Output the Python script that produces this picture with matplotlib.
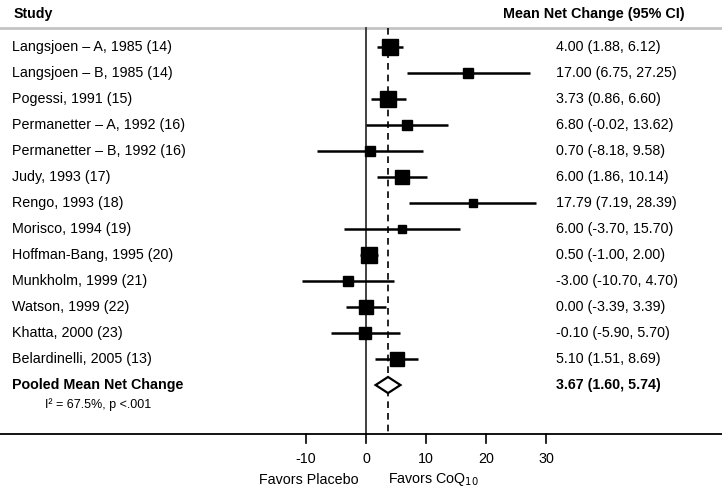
import numpy as np
import matplotlib.pyplot as plt

plt.rcParams['font.family'] = ['Liberation Sans', 'DejaVu Sans']

studies = ['Langsjoen \u2013 A, 1985 (14)', 'Langsjoen \u2013 B, 1985 (14)', 'Pogessi, 1991 (15)',
           'Permanetter \u2013 A, 1992 (16)', 'Permanetter \u2013 B, 1992 (16)', 'Judy, 1993 (17)',
           'Rengo, 1993 (18)', 'Morisco, 1994 (19)', 'Hoffman-Bang, 1995 (20)',
           'Munkholm, 1999 (21)', 'Watson, 1999 (22)', 'Khatta, 2000 (23)',
           'Belardinelli, 2005 (13)']
mean = [4.00, 17.00, 3.73, 6.80, 0.70, 6.00, 17.79, 6.00, 0.50, -3.00, 0.00, -0.10, 5.10]
lo = [1.88, 6.75, 0.86, -0.02, -8.18, 1.86, 7.19, -3.70, -1.00, -10.70, -3.39, -5.90, 1.51]
hi = [6.12, 27.25, 6.60, 13.62, 9.58, 10.14, 28.39, 15.70, 2.00, 4.70, 3.39, 5.70, 8.69]
# relative study weight (drives box size)
weight = [16, 9, 16, 10, 9, 14, 8, 8, 16, 10, 14, 11, 14]
pooled = 3.67
pooled_lo = 1.60
pooled_hi = 5.74
xticks = [-10, 0, 10, 20, 30]

fs = 10.3

fig = plt.figure(figsize=(7.22, 4.88), dpi=100)
ax = fig.add_axes([0, 0, 1, 1])
ax.set_xlim(-61, 59.33)
ax.set_ylim(16.96, -1.808)
ax.axis('off')

n = len(studies)
axis_y = 14.885
top_y = -0.73

# header line
ax.axhline(-0.73, color='#c4c4c4', lw=2)
ax.text(-58.8, -1.27, 'Study', fontsize=10.2, fontweight='bold', va='center', ha='left')
ax.text(22.8, -1.27, 'Mean Net Change (95% CI)', fontsize=10.4, fontweight='bold', va='center', ha='left')

# reference lines
ax.plot([0, 0], [top_y, axis_y], color='#333333', lw=1.3)
ax.plot([pooled, pooled], [top_y, axis_y], color='black', lw=1.2, ls=(0, (4, 3)))

for i in range(n):
    ax.plot([lo[i], hi[i]], [i, i], color='black', lw=1.8, solid_capstyle='butt')
    ax.plot(mean[i], i, marker='s', color='black', markersize=weight[i] * 0.75, zorder=3)
    ax.text(-59, i, studies[i], fontsize=fs, va='center', ha='left')
    ax.text(31.6, i, '%.2f (%.2f, %.2f)' % (mean[i], lo[i], hi[i]), fontsize=fs, va='center', ha='left')

# pooled diamond
py = n
ax.fill([pooled_lo, pooled, pooled_hi, pooled], [py, py - 0.31, py, py + 0.31],
        facecolor='white', edgecolor='black', lw=1.6, zorder=4)
ax.text(-59, py, 'Pooled Mean Net Change', fontsize=fs, fontweight='bold', va='center', ha='left')
ax.text(31.6, py, '%.2f (%.2f, %.2f)' % (pooled, pooled_lo, pooled_hi), fontsize=fs,
        fontweight='bold', va='center', ha='left')
ax.text(-53.5, py + 0.77, 'I\u00b2 = 67.5%, p <.001', fontsize=9, va='center', ha='left')

# x axis
ax.axhline(axis_y, color='black', lw=1.3)
for t in xticks:
    ax.plot([t, t], [axis_y, axis_y + 0.34], color='black', lw=1.2)
    ax.text(t, axis_y + 0.95, str(t), fontsize=fs, ha='center', va='center')
ax.text(-1.3, axis_y + 1.75, 'Favors Placebo', fontsize=fs, ha='right', va='center')
ax.text(3.6, axis_y + 1.75, 'Favors CoQ$_{10}$', fontsize=fs, ha='left', va='center')

fig.savefig('out.png', dpi=100)
